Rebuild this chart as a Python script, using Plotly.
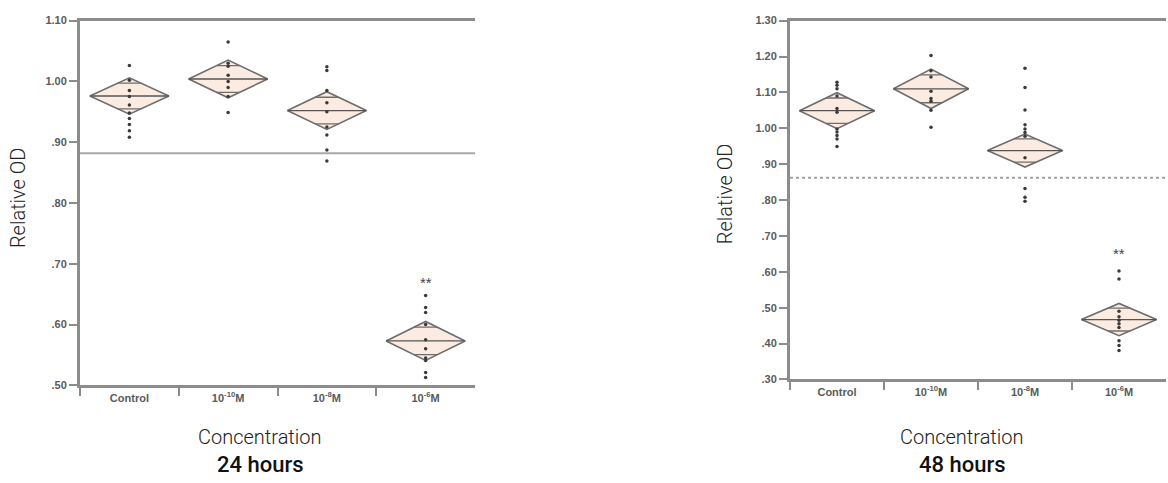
import plotly.graph_objects as go
import math

categories = ["Control", "10<sup>-10</sup>M", "10<sup>-8</sup>M", "10<sup>-6</sup>M"]

# 24 hours panel
means_24 = [0.976, 1.004, 0.952, 0.573]
ci_24 = [0.030, 0.031, 0.031, 0.032]
points_24 = [
    [1.026, 1.002, 0.985, 0.975, 0.961, 0.948, 0.939, 0.929, 0.919, 0.908],
    [1.065, 1.030, 1.025, 1.010, 1.000, 0.990, 0.975, 0.949],
    [1.024, 1.018, 0.985, 0.965, 0.950, 0.925, 0.912, 0.887, 0.869],
    [0.648, 0.628, 0.620, 0.600, 0.575, 0.560, 0.545, 0.541, 0.521, 0.513],
]
sig_24 = [None, None, None, 0.676]
grand_mean_24 = 0.882
yticks_24 = [0.50, 0.60, 0.70, 0.80, 0.90, 1.00, 1.10]
yticktext_24 = [".50", ".60", ".70", ".80", ".90", "1.00", "1.10"]
yrange_24 = [0.50, 1.10]

# 48 hours panel
means_48 = [1.049, 1.110, 0.938, 0.467]
ci_48 = [0.050, 0.055, 0.046, 0.045]
points_48 = [
    [1.128, 1.120, 1.110, 1.090, 1.055, 1.045, 0.998, 0.990, 0.980, 0.970, 0.949],
    [1.203, 1.160, 1.143, 1.103, 1.083, 1.075, 1.050, 1.003],
    [1.167, 1.114, 1.051, 1.010, 0.998, 0.988, 0.978, 0.918, 0.832, 0.808, 0.797],
    [0.602, 0.580, 0.490, 0.475, 0.465, 0.455, 0.445, 0.408, 0.395, 0.381],
]
sig_48 = [None, None, None, 0.661]
grand_mean_48 = 0.8625
yticks_48 = [0.30, 0.40, 0.50, 0.60, 0.70, 0.80, 0.90, 1.00, 1.10, 1.20, 1.30]
yticktext_48 = [".30", ".40", ".50", ".60", ".70", ".80", ".90", "1.00", "1.10", "1.20", "1.30"]
yrange_48 = [0.30, 1.30]

panel_titles = ["24 hours", "48 hours"]

W, H = 1168, 483
HALF = 0.40  # diamond half-width in category units

fig = go.Figure()

AXIS_GREY = "#8c8c8c"
TICK_FONT = dict(family="Liberation Sans", size=11, color="#5a5a5a", weight="bold")


def add_panel(xa, ya, means, cis, points, sigs):
    for i, (m, c) in enumerate(zip(means, cis)):
        fig.add_trace(go.Scatter(
            x=[i - HALF, i, i + HALF, i, i - HALF],
            y=[m, m + c, m, m - c, m],
            mode="lines", fill="toself", fillcolor="rgba(248,222,204,0.6)",
            line=dict(color="#6e6e6e", width=1.6),
            xaxis=xa, yaxis=ya, hoverinfo="skip", showlegend=False))
        fig.add_trace(go.Scatter(
            x=[i - HALF, i + HALF], y=[m, m], mode="lines",
            line=dict(color="#555555", width=1.3),
            xaxis=xa, yaxis=ya, hoverinfo="skip", showlegend=False))
        d = c / math.sqrt(2)
        hw = HALF * (1 - d / c)
        for s in (1, -1):
            fig.add_trace(go.Scatter(
                x=[i - hw, i + hw], y=[m + s * d, m + s * d], mode="lines",
                line=dict(color="#6e6e6e", width=1.3),
                xaxis=xa, yaxis=ya, hoverinfo="skip", showlegend=False))
        fig.add_trace(go.Scatter(
            x=[i] * len(points[i]), y=points[i], mode="markers",
            marker=dict(color="#3a3a3a", size=3.5),
            xaxis=xa, yaxis=ya, hoverinfo="skip", showlegend=False))
        if sigs[i] is not None:
            fig.add_annotation(x=i, y=sigs[i], xref=xa, yref=ya, text="**",
                               showarrow=False, yshift=-4,
                               xanchor="center", yanchor="middle",
                               font=dict(family="Liberation Sans", size=15, color="#444"))


add_panel("x", "y", means_24, ci_24, points_24, sig_24)
add_panel("x2", "y2", means_48, ci_48, points_48, sig_48)

dom_x1 = [80 / W, 475 / W]
dom_y1 = [1 - 389 / H, 1 - 15 / H]
dom_x2 = [790 / W, 1166 / W]
dom_y2 = [1 - 383 / H, 1 - 15 / H]


def xaxis_cfg(domain, anchor):
    return dict(
        domain=domain, anchor=anchor, range=[-0.5, 3.5],
        tickmode="array", tickvals=[0, 1, 2, 3], ticktext=categories,
        ticks="", tickfont=TICK_FONT, showgrid=False, zeroline=False,
        showline=True, linecolor=AXIS_GREY, linewidth=3, mirror=True,
        minor=dict(tickmode="array", tickvals=[-0.5, 0.5, 1.5, 2.5],
                   ticks="outside", ticklen=8, tickcolor=AXIS_GREY, tickwidth=1.5),
        fixedrange=True,
    )


def yaxis_cfg(domain, anchor, tv, tt, rng):
    return dict(
        domain=domain, anchor=anchor, range=rng,
        tickmode="array", tickvals=tv, ticktext=tt,
        ticks="outside", ticklen=8, tickcolor=AXIS_GREY, tickwidth=1.5,
        tickfont=TICK_FONT, showgrid=False, zeroline=False,
        showline=True, linecolor=AXIS_GREY, linewidth=3,
        fixedrange=True,
    )


fig.update_layout(
    autosize=True,
    margin=dict(l=0, r=0, t=0, b=0),
    paper_bgcolor="white", plot_bgcolor="white",
    xaxis=xaxis_cfg(dom_x1, "y"),
    yaxis=yaxis_cfg(dom_y1, "x", yticks_24, yticktext_24, yrange_24),
    xaxis2=xaxis_cfg(dom_x2, "y2"),
    yaxis2=yaxis_cfg(dom_y2, "x2", yticks_48, yticktext_48, yrange_48),
)

fig.add_shape(type="line", xref="x domain", yref="y", x0=0, x1=1,
              y0=grand_mean_24, y1=grand_mean_24,
              line=dict(color="#a8a8a8", width=2))
fig.add_shape(type="line", xref="x2 domain", yref="y2", x0=0, x1=1,
              y0=grand_mean_48, y1=grand_mean_48,
              line=dict(color="#a0a0a0", width=2, dash="dot"))

TITLE_FONT = dict(family="Roboto", size=20, color="#222", weight=300)
for xc, yc in ((18 / W, 1 - 197 / H), (725 / W, 1 - 193 / H)):
    fig.add_annotation(x=xc, y=yc, xref="paper", yref="paper", text="Relative OD",
                       textangle=-90, showarrow=False, font=TITLE_FONT,
                       xanchor="center", yanchor="middle")

for xc, t in zip((260 / W, 962 / W), panel_titles):
    fig.add_annotation(x=xc, y=1 - 442 / H, xref="paper", yref="paper",
                       text="Concentration", showarrow=False,
                       xanchor="center", yanchor="middle",
                       font=dict(family="Roboto", size=20, color="#222", weight=300))
    fig.add_annotation(x=xc, y=1 - 470 / H, xref="paper", yref="paper",
                       text=t, showarrow=False,
                       xanchor="center", yanchor="middle",
                       font=dict(family="Roboto", size=22, color="#111", weight=500))

fig.write_html("out.html", config={"displayModeBar": False, "responsive": True},
               default_width="100%", default_height="100%")

# let the figure fill the browser viewport exactly (no default body margin)
with open("out.html", "r", encoding="utf-8") as f:
    html = f.read()
html = html.replace(
    "<head>",
    "<head><style>html,body{margin:0;padding:0;width:100%;height:100%;overflow:hidden;}"
    "body>div{width:100%;height:100%;}</style>", 1)
with open("out.html", "w", encoding="utf-8") as f:
    f.write(html)
